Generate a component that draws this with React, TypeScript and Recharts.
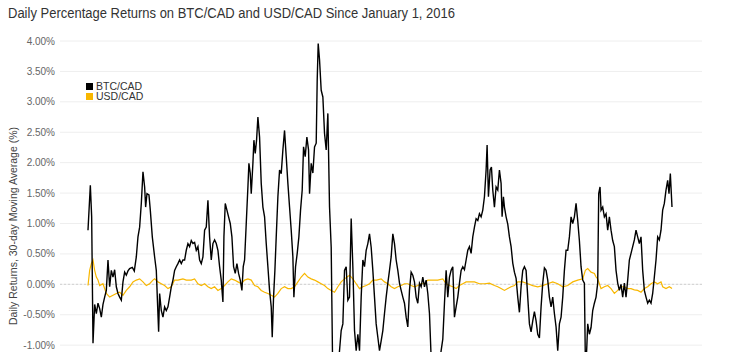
import React from "react"
import { LineChart, Line, XAxis, YAxis, CartesianGrid, ReferenceLine } from "recharts"

// day offset since start of the series, 30-day moving average of daily returns (%)
const btcPoints: [number, number][] = [
  [1, 0.89], [8, 1.63], [12, 1.11], [16, -0.97], [21, -0.33], [26, -0.48], [31, -0.31], [36, -0.4],
  [41, -0.54], [46, -0.33], [51, -0.21], [56, -0.1], [61, 0.4], [66, -0.04], [71, 0.23], [76, 0.12],
  [81, 0.24], [86, -0.04], [91, -0.15], [96, -0.21], [101, -0.26], [106, 0.04], [111, 0.2], [116, 0.15],
  [121, 0.22], [126, 0.26], [134, 0.28], [140, 0.22], [146, 0.45], [151, 0.78], [156, 0.94], [161, 1.33],
  [166, 1.85], [171, 1.6], [174, 1.27], [178, 1.49], [184, 1.47], [188, 1.22], [194, 0.78], [201, 0.45],
  [206, 0.23], [209, -0.21], [213, -0.78], [216, -0.15], [221, -0.43], [226, -0.54], [231, -0.37], [236, -0.43],
  [241, -0.37], [246, -0.21], [251, -0.04], [256, 0.07], [261, 0.23], [266, 0.29], [271, 0.34], [276, 0.4],
  [281, 0.34], [286, 0.4], [291, 0.4], [296, 0.56], [301, 0.67], [306, 0.62], [311, 0.72], [316, 0.67],
  [321, 0.69], [326, 0.56], [331, 0.62], [336, 0.4], [341, 0.34], [346, 0.45], [351, 0.89], [356, 0.94],
  [361, 1.38], [366, 0.78], [371, 0.4], [376, 0.67], [381, 0.73], [386, 0.67], [391, 0.56], [396, 0.29],
  [401, 0.07], [406, -0.29], [409, 0.78], [413, 1.33], [418, 1.22], [423, 1.11], [428, 1.0], [433, 0.78],
  [438, 0.29], [443, 0.18], [448, 0.34], [453, 0.18], [458, 0.07], [463, -0.1], [467, 0.29], [471, 0.4],
  [476, 1.0], [481, 1.6], [484, 1.99], [488, 1.83], [491, 1.49], [496, 1.99], [499, 2.37], [503, 2.15],
  [507, 2.37], [511, 2.75], [516, 2.42], [521, 1.66], [526, 1.27], [531, 1.11], [536, 0.67], [541, 0.29],
  [546, -0.1], [551, -0.37], [554, -0.87], [558, -0.21], [562, 0.23], [566, 0.78], [571, 1.44], [576, 1.88],
  [581, 1.82], [586, 2.21], [591, 2.53], [596, 2.1], [601, 1.66], [606, 1.27], [611, 0.89], [616, 0.45],
  [619, -0.21], [624, 0.29], [629, 0.51], [634, 0.78], [639, 1.22], [644, 1.55], [648, 2.26], [653, 2.1],
  [658, 2.42], [663, 2.21], [666, 1.49], [671, 1.99], [676, 1.83], [681, 2.26], [686, 2.32], [689, 3.36],
  [692, 3.96], [696, 3.69], [701, 3.19], [706, 3.08], [711, 2.48], [716, 2.21], [721, 2.81], [726, 1.27],
  [731, 0.61], [735, -1.2], [741, -1.6], [747, -1.5], [753, -1.3], [756, -1.09], [761, -0.76], [766, -0.65],
  [771, 0.23], [776, 0.29], [781, -0.26], [786, -0.21], [791, 1.08], [796, 0.29], [801, -0.76], [806, -1.09],
  [811, -0.82], [816, -1.09], [821, -0.21], [826, 0.4], [831, 0.29], [836, 0.56], [841, 0.67], [846, 0.83],
  [851, 0.61], [856, 0.23], [861, -0.21], [866, -0.65], [871, -0.87], [876, -1.09], [881, -0.93], [886, -0.76],
  [891, -0.48], [896, -0.21], [901, 0.02], [906, 0.23], [911, 0.45], [916, 0.83], [921, 0.67], [926, 0.4],
  [931, 0.23], [936, 0.02], [941, -0.1], [946, -0.21], [951, -0.31], [956, -0.54], [961, -0.7], [966, -0.1],
  [971, 0.2], [976, 0.15], [981, 0.04], [986, -0.21], [991, -0.31], [996, 0.02], [1001, -0.04], [1006, 0.12],
  [1011, -0.04], [1016, 0.07], [1021, -0.15], [1026, -0.48], [1031, -1.2], [1038, -1.5], [1047, -1.6], [1056, -1.3],
  [1061, -1.09], [1066, -0.9], [1071, -0.31], [1076, 0.23], [1081, -0.21], [1086, 0.12], [1091, 0.23], [1096, 0.29],
  [1101, -0.54], [1106, -0.37], [1111, -0.21], [1116, 0.02], [1121, 0.23], [1126, 0.29], [1131, 0.24], [1136, 0.4],
  [1141, 0.56], [1146, 0.62], [1151, 0.51], [1156, 0.78], [1161, 0.94], [1166, 1.08], [1171, 1.05], [1176, 1.16],
  [1181, 1.11], [1186, 1.22], [1191, 1.44], [1196, 1.88], [1199, 2.29], [1203, 1.44], [1208, 1.88], [1212, 1.93],
  [1216, 1.55], [1221, 1.27], [1226, 1.6], [1231, 1.55], [1236, 1.88], [1241, 1.66], [1244, 1.11], [1248, 1.44],
  [1251, 1.27], [1256, 1.11], [1261, 0.99], [1266, 0.78], [1271, 0.62], [1276, 0.35], [1281, 0.2], [1286, 0.1],
  [1291, -0.21], [1296, -0.46], [1301, -0.04], [1306, 0.23], [1311, 0.29], [1316, 0.23], [1321, -0.21], [1326, -0.65],
  [1331, -0.78], [1336, -0.6], [1341, -0.45], [1346, -0.6], [1351, -0.82], [1356, -0.88], [1361, -0.37], [1366, 0.02],
  [1371, 0.27], [1376, 0.23], [1381, 0.07], [1386, -0.21], [1391, -0.37], [1396, -0.21], [1401, -0.48], [1406, -0.7],
  [1411, -1.09], [1416, -0.65], [1421, -0.54], [1426, -0.21], [1431, 0.23], [1436, 0.56], [1441, 0.56], [1446, 0.78],
  [1451, 1.11], [1456, 1.0], [1461, 1.11], [1466, 1.33], [1471, 1.05], [1476, 0.72], [1481, 0.29], [1486, 0.07],
  [1491, 0.02], [1494, -1.3], [1497, -1.2], [1501, -0.65], [1506, -0.82], [1511, -0.71], [1516, -0.43], [1521, -0.31],
  [1526, -0.21], [1531, 0.02], [1534, 1.49], [1538, 1.6], [1541, 1.22], [1546, 1.27], [1551, 1.11], [1556, 1.16],
  [1561, 0.89], [1566, 1.11], [1571, 0.89], [1576, 0.72], [1581, 0.62], [1586, 0.23], [1591, 0.02], [1596, -0.1],
  [1601, 0.0], [1606, -0.21], [1611, 0.02], [1616, -0.21], [1621, 0.07], [1626, 0.4], [1631, 0.51], [1636, 0.62],
  [1641, 0.73], [1646, 0.89], [1651, 0.78], [1656, 0.67], [1661, 0.78], [1666, 0.23], [1671, -0.1], [1676, -0.21],
  [1681, -0.31], [1686, -0.26], [1691, -0.31], [1696, -0.15], [1701, 0.12], [1706, 0.4], [1711, 0.78], [1716, 0.73],
  [1721, 0.89], [1726, 1.22], [1731, 1.33], [1736, 1.55], [1741, 1.71], [1745, 1.49], [1749, 1.82], [1754, 1.27],
]

const usdPoints: [number, number][] = [
  [1, -0.02], [6, 0.23], [11, 0.34], [16, 0.4], [21, 0.23], [26, 0.12], [31, 0.07], [36, -0.02],
  [46, 0.01], [56, -0.15], [66, -0.21], [76, -0.18], [86, -0.15], [96, -0.13], [106, -0.18], [116, -0.1],
  [126, -0.04], [136, 0.04], [146, 0.07], [156, 0.09], [166, 0.04], [176, -0.02], [186, 0.01], [196, 0.07],
  [201, 0.09], [211, 0.04], [221, 0.01], [231, -0.02], [241, -0.07], [251, -0.04], [261, 0.07], [271, 0.07],
  [286, 0.09], [296, 0.07], [311, 0.07], [321, 0.09], [331, 0.01], [341, -0.02], [351, 0.01], [361, -0.04],
  [371, -0.07], [381, -0.04], [391, -0.1], [401, -0.07], [411, -0.02], [421, 0.04], [431, 0.09], [441, 0.07],
  [451, 0.04], [461, 0.01], [471, 0.07], [481, 0.09], [491, 0.07], [501, -0.02], [511, -0.04], [521, -0.1],
  [531, -0.13], [541, -0.15], [551, -0.18], [561, -0.21], [571, -0.15], [581, -0.07], [591, -0.04], [601, -0.07],
  [611, -0.07], [621, -0.04], [631, 0.04], [641, 0.12], [651, 0.18], [661, 0.12], [671, 0.09], [681, 0.07],
  [691, 0.04], [701, 0.01], [711, -0.02], [721, -0.07], [731, -0.1], [741, -0.13], [751, -0.04], [761, 0.04],
  [771, 0.09], [786, 0.15], [796, 0.09], [806, 0.01], [816, -0.07], [826, -0.04], [836, -0.02], [846, 0.01],
  [856, 0.07], [867, 0.07], [881, 0.09], [891, 0.04], [901, 0.01], [911, -0.04], [921, -0.07], [931, -0.04],
  [941, -0.02], [951, 0.01], [961, 0.01], [971, -0.02], [981, -0.04], [991, -0.02], [1001, 0.01], [1011, 0.01],
  [1021, 0.07], [1035, 0.07], [1051, 0.07], [1066, 0.09], [1076, 0.01], [1086, -0.02], [1096, -0.04], [1106, -0.07],
  [1116, -0.02], [1126, 0.01], [1136, 0.04], [1146, 0.04], [1161, 0.04], [1176, 0.01], [1191, 0.01], [1206, 0.02],
  [1221, -0.02], [1231, -0.04], [1241, -0.07], [1251, -0.1], [1261, -0.07], [1271, -0.04], [1281, -0.02], [1291, 0.04],
  [1306, 0.04], [1321, 0.01], [1336, -0.02], [1351, -0.04], [1366, -0.02], [1381, 0.01], [1396, 0.04], [1411, 0.01],
  [1426, -0.04], [1441, -0.02], [1456, 0.04], [1471, 0.07], [1486, 0.09], [1494, 0.23], [1501, 0.26], [1511, 0.2],
  [1521, 0.18], [1526, 0.12], [1531, 0.09], [1536, 0.01], [1541, -0.07], [1551, -0.04], [1561, -0.02], [1571, -0.07],
  [1581, -0.15], [1591, -0.1], [1601, -0.04], [1611, -0.04], [1621, -0.07], [1631, -0.07], [1641, -0.09], [1651, -0.1],
  [1661, -0.13], [1671, -0.07], [1681, -0.04], [1691, 0.01], [1701, 0.04], [1711, 0.01], [1721, 0.04], [1726, -0.04],
  [1736, -0.07], [1746, -0.04], [1754, -0.07],
]

const yTicks = [-2, -1.5, -1, -0.5, 0, 0.5, 1, 1.5, 2, 2.5, 3, 3.5, 4]

const seriesNames = ["BTC/CAD", "USD/CAD"]
const BTC_COLOR = "#000000"
const USD_COLOR = "#f8b700"
const seriesColors = [BTC_COLOR, USD_COLOR]

const btcData = btcPoints.map(([day, value]) => ({ day, value }))
const usdData = usdPoints.map(([day, value]) => ({ day, value }))

const FONT = "Liberation Sans, Arial, sans-serif"

export default function App() {
  return (
    <div
      style={{
        position: "absolute",
        left: 0,
        top: 0,
        width: 755,
        height: 352,
        overflow: "hidden",
        background: "#fff",
      }}
    >
      <div style={{ position: "absolute", left: 0, top: 0 }}>
        <LineChart width={755} height={406} margin={{ top: 41, right: 53, left: 0, bottom: 0 }}>
          <CartesianGrid vertical={false} stroke="#eeeeee" />
          <XAxis
            type="number"
            dataKey="day"
            domain={["dataMin", "dataMax"]}
            padding={{ left: 28, right: 30 }}
            hide
          />
          <YAxis
            type="number"
            domain={[-2, 4]}
            ticks={yTicks}
            width={60}
            axisLine={false}
            tickLine={false}
            tickSize={3}
            tickMargin={2}
            interval={0}
            tick={{ fontSize: 10, fill: "#666", fontFamily: FONT }}
            tickFormatter={(v: number) => `${v.toFixed(2)}%`}
          />
          <ReferenceLine y={0} stroke="#d0d0d0" strokeDasharray="2 2" />
          <Line
            data={usdData}
            dataKey="value"
            name="USD/CAD"
            stroke={USD_COLOR}
            strokeWidth={1.2}
            dot={false}
            isAnimationActive={false}
          />
          <Line
            data={btcData}
            dataKey="value"
            name="BTC/CAD"
            stroke={BTC_COLOR}
            strokeWidth={1.4}
            dot={false}
            isAnimationActive={false}
          />
        </LineChart>
      </div>
      {/* legend */}
      <div
        style={{
          position: "absolute",
          left: 86,
          top: 81,
          fontFamily: FONT,
          fontSize: 10.5,
          lineHeight: "11px",
          color: "#333",
        }}
      >
        {seriesNames.map((name, i) => (
          <div key={name} style={{ display: "flex", alignItems: "center", height: 10.5 }}>
            <span
              style={{ width: 7, height: 7, background: seriesColors[i], marginRight: 3, display: "inline-block" }}
            />
            <span>{name}</span>
          </div>
        ))}
      </div>
      <svg
        width={755}
        height={352}
        style={{ position: "absolute", left: 0, top: 0, pointerEvents: "none" }}
        fontFamily={FONT}
      >
        <text x={8} y={18} fontSize={14} fill="#333" textLength={447} lengthAdjust="spacingAndGlyphs">
          Daily Percentage Returns on BTC/CAD and USD/CAD Since January 1, 2016
        </text>
        <text
          x={17}
          y={226}
          fontSize={11}
          fill="#444"
          textAnchor="middle"
          textLength={198}
          lengthAdjust="spacingAndGlyphs"
          transform="rotate(-90, 17, 226)"
        >
          Daily Returns, 30-day Moving Average (%)
        </text>
      </svg>
    </div>
  )
}
